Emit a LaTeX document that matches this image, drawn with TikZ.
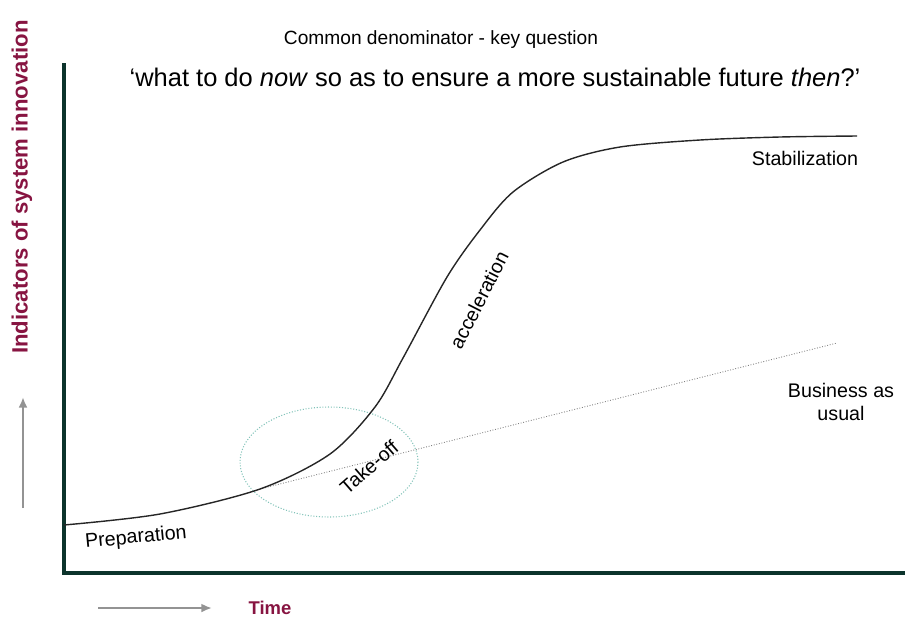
\documentclass[tikz,border=0pt]{standalone}
\usepackage{fontspec}
\setmainfont{Liberation Sans}
\usetikzlibrary{arrows.meta}
\definecolor{axisgreen}{RGB}{12,52,44}
\definecolor{labelred}{RGB}{135,20,65}
\definecolor{ringteal}{RGB}{130,195,185}
\tikzset{
  axisline/.style={line width=2.6pt, axisgreen, line cap=rect},
  hintarrow/.style={line width=1.4pt, gray!85, -{Latex[length=6pt,width=5pt]}},
  phase/.style={font=\fontsize{11.2}{13}\selectfont, inner sep=0pt},
  axislabel/.style={font=\fontsize{12.6}{14}\selectfont\bfseries, labelred, inner sep=0pt},
  heading/.style={font=\fontsize{10.9}{13}\selectfont, inner sep=0pt},
}
\begin{document}
\begin{tikzpicture}[x={(0.02cm,0)}, y={(0,-0.02cm)}]
    \useasboundingbox (0,0) rectangle (905,623);
    % axes
    \coordinate (origin) at (64,573);
    \coordinate (ytop) at (64,65);
    \coordinate (xend) at (903,573);
    \draw[axisline] (ytop) -- (origin) -- (xend);
    % headings
    \node[heading] (title) at (441,40) {Common denominator - key question};
    \node[heading, font=\fontsize{14.5}{17}\selectfont] (question) at (495,77) {‘what to do \textit{now} so as to ensure a more sustainable future \textit{then}?’};
    % axis labels and hint arrows
    \node[axislabel, rotate=90] (ylabel) at (22,187) {Indicators of system innovation};
    \node[axislabel, font=\fontsize{10.5}{12}\selectfont\bfseries] (timelabel) at (270,608) {Time};
    \coordinate (upfrom) at (23,508);
    \coordinate (upto) at (23,397);
    \draw[hintarrow] (upfrom) -- (upto);
    \coordinate (rightfrom) at (98,608);
    \coordinate (rightto) at (212,608);
    \draw[hintarrow] (rightfrom) -- (rightto);
    % business as usual trend
    \coordinate (bau start) at (260,489);
    \coordinate (bau end) at (837,343);
    \draw[gray, densely dotted, line width=0.5pt] (bau start) -- (bau end);
    % take-off zone
    \draw[ringteal, densely dotted, line width=0.6pt] (329,462) ellipse [x radius=89, y radius=55];
    % transition curve
    \draw[black!85, line width=0.8pt] plot[smooth, tension=0.5] coordinates
        {(64,525) (160,514) (260,489) (330,454) (375,407) (403,358) (447,277)
         (480,230) (513,192) (563,162) (620,147) (700,140) (780,137) (857,136)};
    % phases
    \node[phase, rotate=5.5] (prep) at (136,538) {Preparation};
    \node[phase, rotate=41] (takeoff) at (369,467) {Take-off};
    \node[phase, rotate=63] (accel) at (479,300) {acceleration};
    \node[phase] (stab) at (805,158) {Stabilization};
    \node[phase, align=center] (bau) at (841,402) {Business as\\usual};
\end{tikzpicture}
\end{document}
